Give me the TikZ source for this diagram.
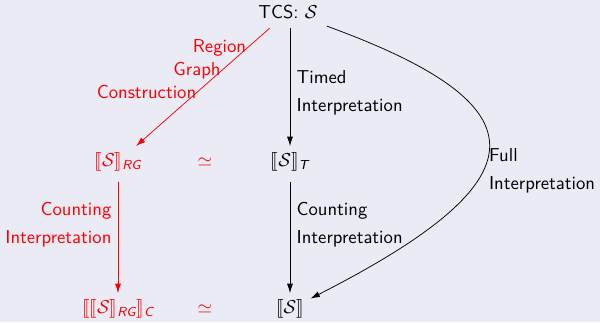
\documentclass[tikz,border=0pt]{standalone}
\usepackage{amsmath,amssymb,stmaryrd}
\usetikzlibrary{arrows.meta}
\definecolor{slidebg}{RGB}{235,235,246}
\newcommand{\semb}[1]{\llbracket #1\rrbracket}
\newcommand{\sfsub}[1]{\textsf{\itshape #1}}
\tikzset{every node/.style={font=\sffamily\fontsize{10}{15}\selectfont},
 interp/.style={-{Latex[length=5pt,width=3.2pt]}},
 rgpath/.style={interp,red},
 rglabel/.style={left,red,inner xsep=0.5pt}}

\begin{document}
\begin{tikzpicture}[x=0.535pt,y=0.535pt]
\fill[slidebg] (0,0) rectangle (600,322);
\useasboundingbox (0,0) rectangle (600,322);
\node[outer sep=1.6pt] (tcs) at (288,310) {TCS: $\mathcal{S}$};
\node[red] (semRG) at (118,160) {$\semb{\mathcal{S}}_{\sfsub{RG}}$};
\node[red] (simT) at (205,160) {$\simeq$};
\node (semT) at (290,160) {$\semb{\mathcal{S}}_{\sfsub{T}}$};
\node[red] (semC) at (118,13) {$\semb{\semb{\mathcal{S}}_{\sfsub{RG}}}_{\sfsub{C}}$};
\node[red] (simC) at (205,13) {$\simeq$};
\node (sem) at (290,13) {$\semb{\mathcal{S}}$};
% region graph branch
\draw[rgpath] (tcs) -- node[pos=.167,rglabel] {Region}
 node[pos=.358,rglabel] {Graph} node[pos=.54,rglabel] {Construction} (semRG);
\draw[rgpath,shorten <=2pt] (semRG) -- node[pos=.405,left,red,align=right] {Counting\\Interpretation} (semC);
% timed branch
\draw[interp] (semT |- tcs.south) -- node[pos=.545,right,align=left] {Timed\\Interpretation} (semT);
\draw[interp,shorten <=2pt] (semT) -- node[pos=.405,right,align=left] {Counting\\Interpretation} (sem);
\draw[interp] (tcs) to[out=-20,in=27,out looseness=2.2,in looseness=2.45]
 node[pos=.585,right,align=left] {Full\\Interpretation} (sem);
\end{tikzpicture}
\end{document}
